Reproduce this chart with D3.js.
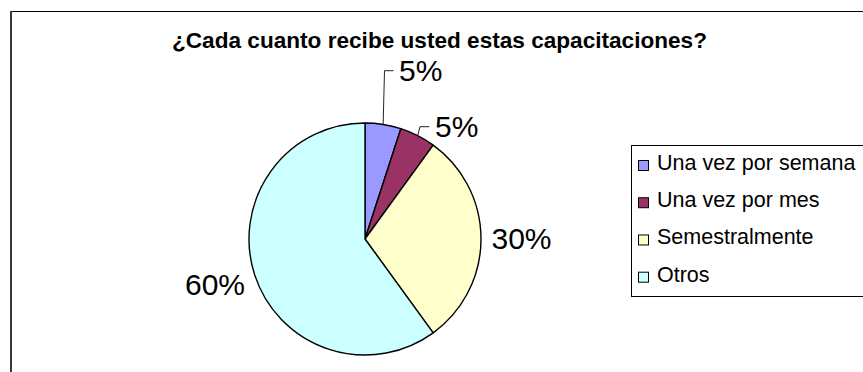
<!DOCTYPE html>
<html>
<head>
<meta charset="utf-8">
<script src="https://cdn.jsdelivr.net/npm/d3@7"></script>
<style>
  html, body { margin: 0; padding: 0; background: #fff; }
  svg { display: block; font-family: "Liberation Sans", Arial, sans-serif; }
</style>
</head>
<body>
<svg id="chart" width="863" height="372"></svg>
<script>
// Survey answers and their shares (%)
const categories = ["Una vez por semana", "Una vez por mes", "Semestralmente", "Otros"];
const values = [5, 5, 30, 60];
const colors = ["#9999FF", "#993366", "#FFFFCC", "#CCFFFF"];
const title = "¿Cada cuanto recibe usted estas capacitaciones?";

const svg = d3.select("#chart");
const W = 863, H = 372;

svg.append("rect").attr("width", W).attr("height", H).attr("fill", "#fff");

// Chart area frame (top and left edges visible)
svg.append("line").attr("x1", 10).attr("x2", W).attr("y1", 11.5).attr("y2", 11.5)
  .attr("stroke", "#000").attr("stroke-width", 1);
svg.append("line").attr("x1", 11).attr("x2", 11).attr("y1", 11).attr("y2", H)
  .attr("stroke", "#3a3a3a").attr("stroke-width", 2);

// Title
svg.append("text")
  .attr("x", 439.5).attr("y", 48.3)
  .attr("text-anchor", "middle")
  .attr("font-weight", "bold")
  .attr("font-size", 22.4)
  .attr("textLength", 535)
  .attr("lengthAdjust", "spacingAndGlyphs")
  .attr("fill", "#000")
  .text(title);

// Pie
const cx = 365, cy = 239, R = 116;
const pie = d3.pie().sort(null).value(d => d).startAngle(0).endAngle(2 * Math.PI);
const arcs = pie(values);
const arc = d3.arc().innerRadius(0).outerRadius(R);

const g = svg.append("g").attr("transform", `translate(${cx},${cy})`);
g.selectAll("path.slice")
  .data(arcs)
  .join("path")
  .attr("class", "slice")
  .attr("d", arc)
  .attr("fill", (d, i) => colors[i])
  .attr("stroke", "#000")
  .attr("stroke-width", 1.4)
  .attr("stroke-linejoin", "round");

// Data label placement relative to the pie centre
const labelLayout = [
  { leader: [[19.5, -168.3], [28.5, -168.3]], text: [34, -158], anchor: "start" },
  { leader: [[55, -112.3], [64.3, -112.3]], text: [70, -102.3], anchor: "start" },
  { leader: null, text: [126.5, 10.3], anchor: "start" },
  { leader: null, text: [-120, 56], anchor: "end" }
];

arcs.forEach((a, i) => {
  const lay = labelLayout[i];
  const mid = (a.startAngle + a.endAngle) / 2;
  if (lay.leader) {
    const edge = [R * Math.sin(mid), -R * Math.cos(mid)];
    const pts = [edge, ...lay.leader];
    g.append("path")
      .attr("d", d3.line()(pts))
      .attr("fill", "none")
      .attr("stroke", "#222")
      .attr("stroke-width", 1);
  }
  g.append("text")
    .attr("x", lay.text[0]).attr("y", lay.text[1])
    .attr("text-anchor", lay.anchor)
    .attr("font-size", 30)
    .attr("fill", "#000")
    .text(d3.format(".0%")(a.data / 100));
});

// Legend
const legend = svg.append("g");
legend.append("rect")
  .attr("x", 631.5).attr("y", 145.5)
  .attr("width", 260).attr("height", 151)
  .attr("fill", "#fff").attr("stroke", "#000").attr("stroke-width", 1);

const rowY = d3.scalePoint().domain(categories).range([170, 281.7]);
const items = legend.selectAll("g.item")
  .data(categories)
  .join("g")
  .attr("class", "item")
  .attr("transform", d => `translate(0,${rowY(d)})`);

items.append("rect")
  .attr("x", 638.5).attr("y", -9.5)
  .attr("width", 10).attr("height", 10)
  .attr("fill", (d, i) => colors[i])
  .attr("stroke", "#000").attr("stroke-width", 1);

items.append("text")
  .attr("x", 657).attr("y", 0)
  .attr("font-size", 21.5)
  .attr("fill", "#000")
  .text(d => d);
</script>
</body>
</html>
